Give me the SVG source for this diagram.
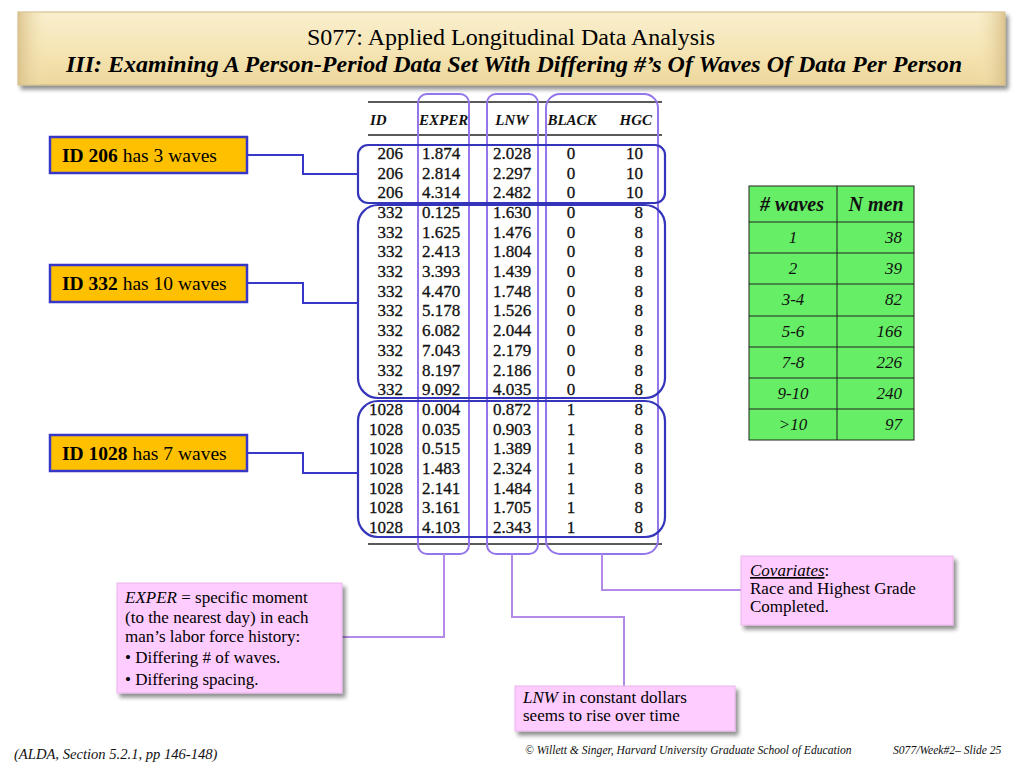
<svg xmlns="http://www.w3.org/2000/svg" width="1024" height="768" viewBox="0 0 1024 768">
<defs>
<linearGradient id="banner" x1="0" y1="0" x2="0" y2="1">
<stop offset="0" stop-color="#f9efcf"/>
<stop offset="0.5" stop-color="#f6e6b6"/>
<stop offset="1" stop-color="#ecd79c"/>
</linearGradient>
<linearGradient id="bannerEdge" x1="0" y1="0" x2="1" y2="0">
<stop offset="0" stop-color="#d9c089" stop-opacity="0.9"/>
<stop offset="0.03" stop-color="#f6e6b6" stop-opacity="0"/>
<stop offset="0.97" stop-color="#f6e6b6" stop-opacity="0"/>
<stop offset="1" stop-color="#d9c089" stop-opacity="0.9"/>
</linearGradient>
<filter id="shadow" x="-10%" y="-10%" width="130%" height="140%">
<feGaussianBlur in="SourceAlpha" stdDeviation="2"/>
<feOffset dx="3" dy="4" result="b"/>
<feComponentTransfer><feFuncA type="linear" slope="0.45"/></feComponentTransfer>
<feMerge><feMergeNode/><feMergeNode in="SourceGraphic"/></feMerge>
</filter>
</defs>
<style>
.serif{font-family:"Liberation Serif","Times New Roman",serif;fill:#000}
.tnum{font-family:"Liberation Serif","Times New Roman",serif;font-size:17px;fill:#111;stroke:#111;stroke-width:0.3}
.thead{font-family:"Liberation Serif","Times New Roman",serif;font-size:15px;font-style:italic;font-weight:bold;fill:#111}
.rule{stroke:#222;stroke-width:1.3;fill:none}
.col{fill:none;stroke:#9575ec;stroke-width:2}
.grp{fill:none;stroke:#3535bb;stroke-width:2.2}
.idbox{fill:#ffc000;stroke:#3838c8;stroke-width:2.5}
.idtxt{font-family:"Liberation Serif","Times New Roman",serif;font-size:19.5px;fill:#000}
.bconn{fill:none;stroke:#3838c8;stroke-width:2}
.pconn{fill:none;stroke:#b48ae8;stroke-width:2}
.pink{fill:#ffccff;stroke:#e7b6ec;stroke-width:1}
.ptxt{font-family:"Liberation Serif","Times New Roman",serif;font-size:17px;fill:#000}
.gcell{fill:#66ee66;stroke:#222;stroke-width:1}
.gtxt{font-family:"Liberation Serif","Times New Roman",serif;font-size:17px;font-style:italic;fill:#111}
.ghead{font-family:"Liberation Serif","Times New Roman",serif;font-size:20px;font-style:italic;font-weight:bold;fill:#111}
.foot{font-family:"Liberation Serif","Times New Roman",serif;font-style:italic;fill:#111}
</style>
<rect width="1024" height="768" fill="#ffffff"/>

<g id="title">
<rect x="18" y="12" width="987" height="73" fill="url(#banner)" stroke="#cdb57f" stroke-width="1" filter="url(#shadow)"/>
<rect x="18" y="12" width="987" height="73" fill="url(#bannerEdge)"/>
<text class="serif" x="511" y="45" font-size="24" text-anchor="middle">S077: Applied Longitudinal Data Analysis</text>
<text class="serif" x="514" y="72" font-size="24" font-weight="bold" font-style="italic" text-anchor="middle">III: Examining A Person-Period Data Set With Differing #’s Of Waves Of Data Per Person</text>
</g>

<g id="data-table">
<line class="rule" x1="368" y1="102" x2="662" y2="102"/>
<line class="rule" x1="368" y1="135" x2="662" y2="135"/>
<line class="rule" x1="368" y1="544" x2="662" y2="544"/>
<text class="thead" x="370" y="125">ID</text>
<text class="thead" x="419" y="125">EXPER</text>
<text class="thead" x="512" y="125" text-anchor="middle">LNW</text>
<text class="thead" x="572" y="125" text-anchor="middle">BLACK</text>
<text class="thead" x="652" y="125" text-anchor="end">HGC</text>
<g class="tnum">
<text x="403" y="159" text-anchor="end">206</text><text x="422" y="159">1.874</text><text x="512" y="159" text-anchor="middle">2.028</text><text x="571" y="159" text-anchor="middle">0</text><text x="643" y="159" text-anchor="end">10</text>
<text x="403" y="178.7" text-anchor="end">206</text><text x="422" y="178.7">2.814</text><text x="512" y="178.7" text-anchor="middle">2.297</text><text x="571" y="178.7" text-anchor="middle">0</text><text x="643" y="178.7" text-anchor="end">10</text>
<text x="403" y="198.4" text-anchor="end">206</text><text x="422" y="198.4">4.314</text><text x="512" y="198.4" text-anchor="middle">2.482</text><text x="571" y="198.4" text-anchor="middle">0</text><text x="643" y="198.4" text-anchor="end">10</text>
<text x="403" y="218" text-anchor="end">332</text><text x="422" y="218">0.125</text><text x="512" y="218" text-anchor="middle">1.630</text><text x="571" y="218" text-anchor="middle">0</text><text x="643" y="218" text-anchor="end">8</text>
<text x="403" y="237.7" text-anchor="end">332</text><text x="422" y="237.7">1.625</text><text x="512" y="237.7" text-anchor="middle">1.476</text><text x="571" y="237.7" text-anchor="middle">0</text><text x="643" y="237.7" text-anchor="end">8</text>
<text x="403" y="257.4" text-anchor="end">332</text><text x="422" y="257.4">2.413</text><text x="512" y="257.4" text-anchor="middle">1.804</text><text x="571" y="257.4" text-anchor="middle">0</text><text x="643" y="257.4" text-anchor="end">8</text>
<text x="403" y="277.1" text-anchor="end">332</text><text x="422" y="277.1">3.393</text><text x="512" y="277.1" text-anchor="middle">1.439</text><text x="571" y="277.1" text-anchor="middle">0</text><text x="643" y="277.1" text-anchor="end">8</text>
<text x="403" y="296.8" text-anchor="end">332</text><text x="422" y="296.8">4.470</text><text x="512" y="296.8" text-anchor="middle">1.748</text><text x="571" y="296.8" text-anchor="middle">0</text><text x="643" y="296.8" text-anchor="end">8</text>
<text x="403" y="316.4" text-anchor="end">332</text><text x="422" y="316.4">5.178</text><text x="512" y="316.4" text-anchor="middle">1.526</text><text x="571" y="316.4" text-anchor="middle">0</text><text x="643" y="316.4" text-anchor="end">8</text>
<text x="403" y="336.1" text-anchor="end">332</text><text x="422" y="336.1">6.082</text><text x="512" y="336.1" text-anchor="middle">2.044</text><text x="571" y="336.1" text-anchor="middle">0</text><text x="643" y="336.1" text-anchor="end">8</text>
<text x="403" y="355.8" text-anchor="end">332</text><text x="422" y="355.8">7.043</text><text x="512" y="355.8" text-anchor="middle">2.179</text><text x="571" y="355.8" text-anchor="middle">0</text><text x="643" y="355.8" text-anchor="end">8</text>
<text x="403" y="375.5" text-anchor="end">332</text><text x="422" y="375.5">8.197</text><text x="512" y="375.5" text-anchor="middle">2.186</text><text x="571" y="375.5" text-anchor="middle">0</text><text x="643" y="375.5" text-anchor="end">8</text>
<text x="403" y="395.2" text-anchor="end">332</text><text x="422" y="395.2">9.092</text><text x="512" y="395.2" text-anchor="middle">4.035</text><text x="571" y="395.2" text-anchor="middle">0</text><text x="643" y="395.2" text-anchor="end">8</text>
<text x="403" y="414.8" text-anchor="end">1028</text><text x="422" y="414.8">0.004</text><text x="512" y="414.8" text-anchor="middle">0.872</text><text x="571" y="414.8" text-anchor="middle">1</text><text x="643" y="414.8" text-anchor="end">8</text>
<text x="403" y="434.5" text-anchor="end">1028</text><text x="422" y="434.5">0.035</text><text x="512" y="434.5" text-anchor="middle">0.903</text><text x="571" y="434.5" text-anchor="middle">1</text><text x="643" y="434.5" text-anchor="end">8</text>
<text x="403" y="454.2" text-anchor="end">1028</text><text x="422" y="454.2">0.515</text><text x="512" y="454.2" text-anchor="middle">1.389</text><text x="571" y="454.2" text-anchor="middle">1</text><text x="643" y="454.2" text-anchor="end">8</text>
<text x="403" y="473.9" text-anchor="end">1028</text><text x="422" y="473.9">1.483</text><text x="512" y="473.9" text-anchor="middle">2.324</text><text x="571" y="473.9" text-anchor="middle">1</text><text x="643" y="473.9" text-anchor="end">8</text>
<text x="403" y="493.6" text-anchor="end">1028</text><text x="422" y="493.6">2.141</text><text x="512" y="493.6" text-anchor="middle">1.484</text><text x="571" y="493.6" text-anchor="middle">1</text><text x="643" y="493.6" text-anchor="end">8</text>
<text x="403" y="513.2" text-anchor="end">1028</text><text x="422" y="513.2">3.161</text><text x="512" y="513.2" text-anchor="middle">1.705</text><text x="571" y="513.2" text-anchor="middle">1</text><text x="643" y="513.2" text-anchor="end">8</text>
<text x="403" y="532.9" text-anchor="end">1028</text><text x="422" y="532.9">4.103</text><text x="512" y="532.9" text-anchor="middle">2.343</text><text x="571" y="532.9" text-anchor="middle">1</text><text x="643" y="532.9" text-anchor="end">8</text>
</g>
</g>

<g id="column-exper"><rect class="col" x="418" y="94" width="51" height="460" rx="9"/></g>
<g id="column-lnw"><rect class="col" x="487" y="94" width="51" height="460" rx="9"/></g>
<g id="column-covariates"><rect class="col" x="546" y="94" width="112" height="460" rx="14"/></g>

<g id="group-206"><rect class="grp" x="358" y="145" width="307" height="58" rx="10"/></g>
<g id="group-332"><rect class="grp" x="358" y="205" width="307" height="193" rx="20"/></g>
<g id="group-1028"><rect class="grp" x="358" y="401" width="307" height="136" rx="20"/></g>

<g id="label-206">
<rect class="idbox" x="50" y="137" width="197" height="36"/>
<text class="idtxt" x="62" y="162"><tspan font-weight="bold">ID 206</tspan> has 3 waves</text>
</g>
<g id="label-332">
<rect class="idbox" x="50" y="265" width="197" height="37"/>
<text class="idtxt" x="62" y="290"><tspan font-weight="bold">ID 332</tspan> has 10 waves</text>
</g>
<g id="label-1028">
<rect class="idbox" x="50" y="435" width="197" height="36"/>
<text class="idtxt" x="62" y="460"><tspan font-weight="bold">ID 1028</tspan> has 7 waves</text>
</g>

<g id="waves-table">
<rect class="gcell" x="749" y="186" width="165" height="254" stroke-width="2.5"/>
<line x1="837" y1="186" x2="837" y2="440" stroke="#222" stroke-width="1"/>
<g stroke="#222" stroke-width="1">
<line x1="749" y1="222" x2="914" y2="222"/>
<line x1="749" y1="253" x2="914" y2="253"/>
<line x1="749" y1="284" x2="914" y2="284"/>
<line x1="749" y1="316" x2="914" y2="316"/>
<line x1="749" y1="347" x2="914" y2="347"/>
<line x1="749" y1="378" x2="914" y2="378"/>
<line x1="749" y1="409" x2="914" y2="409"/>
</g>
<text class="ghead" x="792" y="211" text-anchor="middle"># waves</text>
<text class="ghead" x="876" y="211" text-anchor="middle">N men</text>
<text class="gtxt" x="793" y="243" text-anchor="middle">1</text><text class="gtxt" x="902" y="243" text-anchor="end">38</text>
<text class="gtxt" x="793" y="274" text-anchor="middle">2</text><text class="gtxt" x="902" y="274" text-anchor="end">39</text>
<text class="gtxt" x="793" y="305" text-anchor="middle">3-4</text><text class="gtxt" x="902" y="305" text-anchor="end">82</text>
<text class="gtxt" x="793" y="337" text-anchor="middle">5-6</text><text class="gtxt" x="902" y="337" text-anchor="end">166</text>
<text class="gtxt" x="793" y="368" text-anchor="middle">7-8</text><text class="gtxt" x="902" y="368" text-anchor="end">226</text>
<text class="gtxt" x="793" y="399" text-anchor="middle">9-10</text><text class="gtxt" x="902" y="399" text-anchor="end">240</text>
<text class="gtxt" x="793" y="430" text-anchor="middle">&gt;10</text><text class="gtxt" x="902" y="430" text-anchor="end">97</text>
</g>

<g id="connectors">
<path class="bconn" d="M247 155 H303 V174 H358"/>
<path class="bconn" d="M247 283 H303 V303 H358"/>
<path class="bconn" d="M247 453 H303 V473 H358"/>
<path class="pconn" d="M444 554 V637 H342"/>
<path class="pconn" d="M512 554 V617 H624 V686"/>
<path class="pconn" d="M602 554 V590 H741"/>
</g>

<g id="note-exper">
<rect class="pink" x="117" y="583" width="225" height="110" filter="url(#shadow)"/>
<text class="ptxt" x="125" y="603"><tspan font-style="italic">EXPER</tspan> = specific moment</text>
<text class="ptxt" x="125" y="623">(to the nearest day) in each</text>
<text class="ptxt" x="125" y="642">man’s labor force history:</text>
<text class="ptxt" x="125" y="663">• Differing # of waves.</text>
<text class="ptxt" x="125" y="685">• Differing spacing.</text>
</g>

<g id="note-lnw">
<rect class="pink" x="515" y="686" width="220" height="45" filter="url(#shadow)"/>
<text class="ptxt" x="523" y="703"><tspan font-style="italic">LNW</tspan> in constant dollars</text>
<text class="ptxt" x="523" y="721">seems to rise over time</text>
</g>

<g id="note-covariates">
<rect class="pink" x="741" y="556" width="212" height="69" filter="url(#shadow)"/>
<text class="ptxt" x="750" y="576"><tspan font-style="italic" text-decoration="underline">Covariates</tspan>:</text>
<text class="ptxt" x="750" y="594">Race and Highest Grade</text>
<text class="ptxt" x="750" y="612">Completed.</text>
</g>

<g id="footer">
<text class="foot" x="14" y="759" font-size="14.6">(ALDA, Section 5.2.1, pp 146-148)</text>
<text class="foot" x="525" y="754" font-size="11.6">© Willett &amp; Singer, Harvard University Graduate School of Education</text>
<text class="foot" x="893" y="754" font-size="11.6">S077/Week#2– Slide 25</text>
</g>
</svg>
